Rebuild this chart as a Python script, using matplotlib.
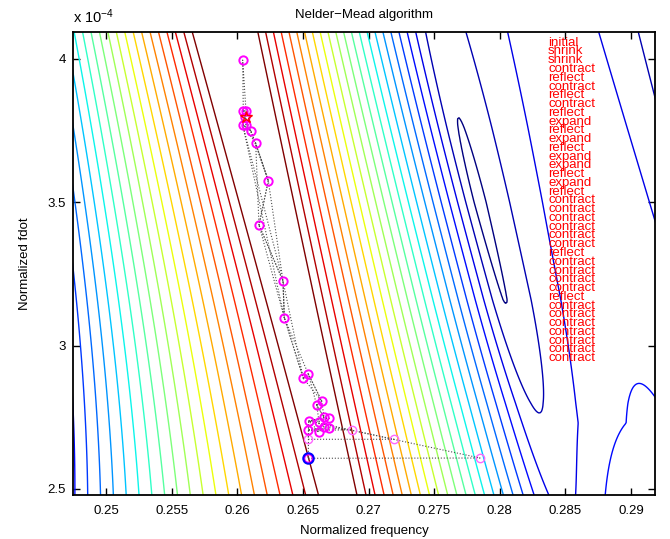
import numpy as np
import matplotlib
matplotlib.use('Agg')
import matplotlib.pyplot as plt

plt.rcParams['font.family'] = ['Liberation Sans', 'DejaVu Sans']
plt.rcParams['mathtext.default'] = 'regular'

# 坐标轴范围 (fdot 以 1e-4 为单位)
freq_lim = (0.24749, 0.29183)
fdot_lim = (2.479, 4.094)
freq_ticks = [0.25, 0.255, 0.26, 0.265, 0.27, 0.275, 0.28, 0.285, 0.29]
fdot_ticks = [2.5, 3, 3.5, 4]

# 等高线曲面参数
ridge_fdot = [2.479, 4.094]
ridge_freq = [0.26766, 0.25907]
ridge_half = [0.00141, 0.00248]
slope_left = [46.0, 70.0]
slope_right = [65.6, 76.0]
side_offset = 0.0251
side_half = 0.0087
side_fdot = [2.479, 2.73, 4.094]
side_amp = [0.18, 0.145, 0.115]
trough_fdot = [2.479, 2.80, 3.16, 3.50, 3.76, 4.094]
trough_lift = [0.084, 0.055, 0.015, 0.005, 0.0225, 0.049]
levels = np.round(np.arange(0.01, 1.0001, 0.045), 3)

# 单纯形顶点
pt_freq = [0.265413, 0.278495, 0.265413, 0.271943, 0.268720, 0.265413, 0.266229,
           0.265436, 0.266229, 0.266610, 0.267013, 0.267013, 0.266610, 0.266053,
           0.266434, 0.265032, 0.265413, 0.263585, 0.263486, 0.261657, 0.262366,
           0.261406, 0.261025, 0.260461, 0.260667, 0.260590, 0.260415, 0.260667,
           0.260415]
pt_fdot = [2.6071, 2.6081, 2.6734, 2.6734, 2.7058, 2.7058, 2.6999,
           2.7372, 2.7347, 2.7501, 2.7466, 2.7138, 2.7173, 2.7930,
           2.8069, 2.8861, 2.9011, 3.0975, 3.2255, 3.4208, 3.5753,
           3.7058, 3.7497, 3.8195, 3.8174, 3.7965, 3.7707, 3.7707,
           3.9962]
light_pts = [1, 2, 3, 4]
simplex_tri = [(0, 1, 7), (2, 3, 7), (5, 4, 11), (5, 6, 12), (7, 8, 6), (7, 9, 10),
               (8, 9, 13), (13, 14, 9), (13, 14, 16), (15, 16, 14), (15, 17, 16),
               (17, 18, 15), (18, 19, 17), (19, 20, 18), (20, 21, 19), (21, 22, 20),
               (22, 26, 21), (25, 26, 22), (23, 24, 25), (23, 28, 24), (27, 25, 24),
               (26, 27, 22), (26, 18, 17)]
start_freq, start_fdot = 0.265413, 2.6071
best_freq, best_fdot = 0.260667, 3.7965

steps = ['initial', 'shrink', 'shrink', 'contract', 'reflect', 'contract', 'reflect',
         'contract', 'reflect', 'expand', 'reflect', 'expand', 'reflect', 'expand',
         'expand', 'reflect', 'expand', 'reflect', 'contract', 'contract', 'contract',
         'contract', 'contract', 'contract', 'reflect', 'contract', 'contract',
         'contract', 'contract', 'reflect', 'contract', 'contract', 'contract',
         'contract', 'contract', 'contract', 'contract']


def surface(F, G):
    """根据脊线参数计算曲面：主瓣与旁瓣的平滑最大值"""
    c = np.interp(G, ridge_fdot, ridge_freq)
    h = np.interp(G, ridge_fdot, ridge_half)
    kl = np.interp(G, ridge_fdot, slope_left)
    kr = np.interp(G, ridge_fdot, slope_right)
    d = F - c
    main = np.where(d < 0, 1 - kl * (-d - h), 1 - kr * (d - h))
    side = np.interp(G, side_fdot, side_amp) * (1 - ((d - side_offset) / side_half) ** 2)
    eps = np.interp(G, trough_fdot, trough_lift)
    return (main + side) / 2 + np.sqrt(((main - side) / 2) ** 2 + eps ** 2)


fig = plt.figure(figsize=(6.7, 5.39), dpi=100)
ax = fig.add_axes([0.109, 0.0816, 0.8687, 0.8590])

F, G = np.meshgrid(np.linspace(0.2470, 0.2925, 450), np.linspace(2.47, 4.10, 350))
Z = surface(F, G)
ax.contour(F, G, Z, levels=levels, cmap='jet', vmin=levels[0], vmax=levels[-1], linewidths=1.0)

for tri in simplex_tri:
    idx = list(tri) + [tri[0]]
    ax.plot(np.take(pt_freq, idx), np.take(pt_fdot, idx), ':', color='0.3', lw=0.8)

dark = [i for i in range(len(pt_freq)) if i not in light_pts]
ax.plot(np.take(pt_freq, light_pts), np.take(pt_fdot, light_pts), 'o', mfc='none',
        mec='#ff66ff', ms=6, mew=1.0)
ax.plot(np.take(pt_freq, dark), np.take(pt_fdot, dark), 'o', mfc='none',
        mec='#ff00ff', ms=6, mew=1.4)
ax.plot(start_freq, start_fdot, 'o', mfc='none', mec='#0000ff', ms=7.5, mew=1.5)
ax.plot(best_freq, best_fdot, '*', mfc='none', mec='r', ms=9, mew=1)

for i, s in enumerate(steps):
    ax.text(0.28368, 4.0567 - i * 0.03056, s, color='r', fontsize=9.5,
            va='center', ha='left')

ax.set_xlim(freq_lim)
ax.set_ylim(fdot_lim)
ax.set_xticks(freq_ticks)
ax.set_yticks(fdot_ticks)
ax.set_xticklabels(['%g' % t for t in freq_ticks])
ax.set_yticklabels(['%g' % t for t in fdot_ticks])
ax.tick_params(direction='in', top=True, right=True, length=5, width=1,
               labelsize=9.5, pad=5)
ax.tick_params(axis='x', pad=7)
for sp in ax.spines.values():
    sp.set_linewidth(1.3)

ax.set_title('Nelder\u2212Mead algorithm', fontsize=9.5, pad=10)
ax.set_xlabel('Normalized frequency', fontsize=9.5, labelpad=6)
ax.set_ylabel('Normalized fdot', fontsize=9.5, labelpad=12)
ax.text(0.0, 1.012, 'x 10$^{-4}$', transform=ax.transAxes, fontsize=10.5,
        ha='left', va='bottom')

fig.savefig('out.png', dpi=100)
